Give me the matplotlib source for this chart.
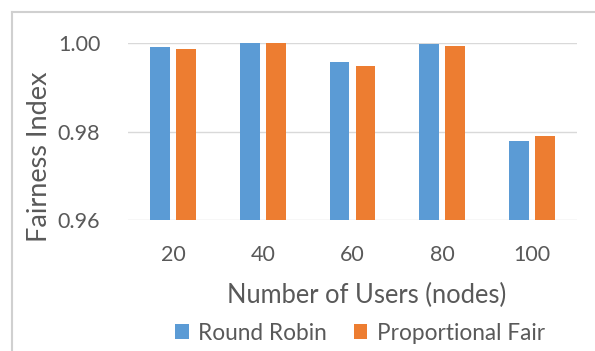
import numpy as np
import matplotlib.pyplot as plt
from matplotlib.lines import Line2D

users = ['20', '40', '60', '80', '100']
round_robin = [0.9990, 1.0000, 0.9957, 0.9998, 0.9778]
prop_fair = [0.9987, 1.0000, 0.9947, 0.9994, 0.9789]

blue = '#5B9BD5'
orange = '#ED7D31'
txt = '#595959'

plt.rcParams['font.family'] = ['Lato', 'DejaVu Sans']

W, H = 595, 351
fig = plt.figure(figsize=(W / 100, H / 100), dpi=100)
ax = fig.add_axes([128 / W, 1 - 220 / H, (577 - 128) / W, (220 - 43) / H])

x = np.arange(len(users))
bw = 0.22
ax.bar(x - 0.145, np.array(round_robin) - 0.96, bw, bottom=0.96, color=blue, label='Round Robin', zorder=3)
ax.bar(x + 0.145, np.array(prop_fair) - 0.96, bw, bottom=0.96, color=orange, label='Proportional Fair', zorder=3)

ax.set_xlim(-0.5, len(users) - 0.5)
ax.set_ylim(0.96, 1.0)
ax.set_yticks([0.96, 0.98, 1.00])
ax.set_yticklabels(['0.96', '0.98', '1.00'])
ax.set_xticks(x)
ax.set_xticklabels(users)
ax.grid(axis='y', color='#D9D9D9', lw=1, zorder=0)
for s in ax.spines.values():
    s.set_visible(False)
ax.tick_params(length=0, labelsize=15.5, labelcolor=txt)
ax.tick_params(axis='y', pad=20)
ax.tick_params(axis='x', pad=18)

fig.text(367 / W, 1 - 295 / H, 'Number of Users (nodes)', ha='center', va='center',
         fontsize=18.4, color=txt)
fig.text(40 / W, 1 - 157 / H, 'Fairness Index', ha='center', va='center',
         rotation=90, fontsize=19.5, color=txt)

leg = fig.legend(loc='center', bbox_to_anchor=(360 / W, 1 - 333 / H), ncol=2, frameon=False,
                 fontsize=16.3, handlelength=0.6, handleheight=0.6, handletextpad=0.4,
                 columnspacing=1.2)
for t in leg.get_texts():
    t.set_color(txt)

# chart area border (left and top edges visible)
fig.add_artist(Line2D([12 / W, 12 / W], [0, 1 - 12 / H], color='#D0D0D0', lw=1.5))
fig.add_artist(Line2D([12 / W, 1], [1 - 12 / H, 1 - 12 / H], color='#D0D0D0', lw=1.5))

fig.savefig('out.png', dpi=100)
